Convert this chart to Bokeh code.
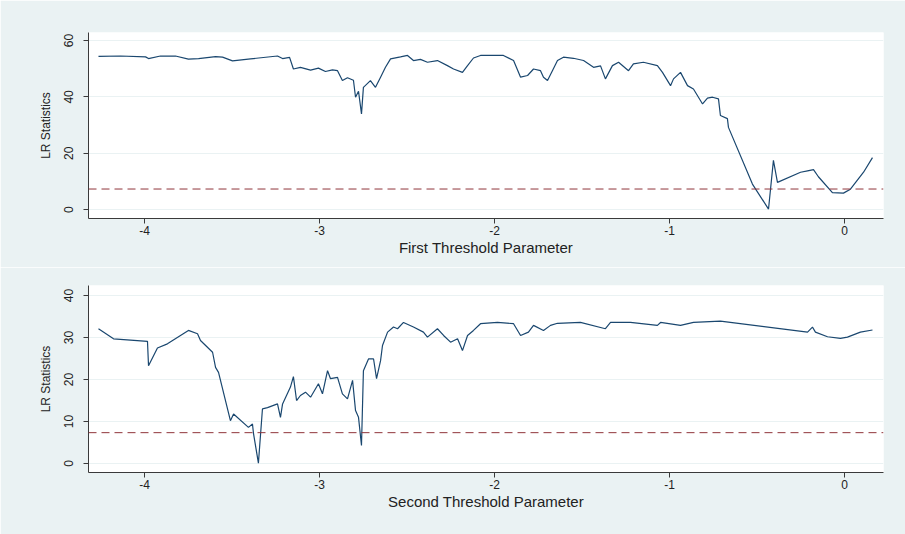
from bokeh.plotting import figure
from bokeh.models import Span, FixedTicker
from bokeh.layouts import column
from bokeh.embed import file_html
from bokeh.resources import INLINE

# ---- data ----
x1 = [-4.263, -4.137, -3.994, -3.977, -3.909, -3.823, -3.749, -3.691, -3.594, -3.554,
      -3.497, -3.394, -3.240, -3.211, -3.171, -3.149, -3.109, -3.051, -3.006, -2.966,
      -2.926, -2.897, -2.869, -2.840, -2.806, -2.794, -2.777, -2.760, -2.749, -2.709,
      -2.680, -2.651, -2.623, -2.594, -2.537, -2.497, -2.463, -2.423, -2.383, -2.326,
      -2.269, -2.234, -2.183, -2.154, -2.120, -2.080, -1.949, -1.891, -1.851, -1.811,
      -1.777, -1.737, -1.720, -1.697, -1.669, -1.640, -1.606, -1.549, -1.491, -1.434,
      -1.394, -1.366, -1.326, -1.291, -1.234, -1.206, -1.149, -1.069, -1.040, -0.994,
      -0.977, -0.937, -0.897, -0.863, -0.811, -0.783, -0.754, -0.720, -0.709, -0.669,
      -0.663, -0.526, -0.434, -0.406, -0.383, -0.251, -0.211, -0.177, -0.149, -0.069,
      -0.006, 0.034, 0.109, 0.160]
lr1 = [54.4, 54.5, 54.2, 53.6, 54.5, 54.5, 53.4, 53.6, 54.3, 54.1,
       52.8, 53.5, 54.5, 53.6, 54.0, 49.9, 50.5, 49.5, 50.2, 49.0,
       49.6, 49.3, 45.8, 46.8, 45.9, 39.9, 42.0, 34.0, 43.4, 45.8,
       43.4, 47.0, 50.5, 53.5, 54.2, 54.7, 52.9, 53.3, 52.3, 52.9,
       51.1, 49.9, 48.7, 51.1, 53.8, 54.7, 54.7, 52.9, 47.0, 47.6,
       49.9, 49.3, 47.0, 45.8, 49.3, 52.9, 54.1, 53.7, 52.9, 50.5,
       51.0, 46.4, 51.1, 52.3, 49.3, 51.7, 52.3, 51.1, 48.7, 44.0,
       46.4, 48.7, 44.0, 42.8, 37.5, 39.6, 39.9, 39.3, 33.4, 32.3,
       29.2, 9.1, 0.25, 17.5, 9.7, 13.3, 13.8, 14.2, 11.7, 6.1,
       5.9, 7.3, 13.3, 18.5]

x2 = [-4.263, -4.177, -3.983, -3.977, -3.926, -3.869, -3.749, -3.697, -3.680, -3.611,
      -3.594, -3.577, -3.509, -3.491, -3.406, -3.383, -3.377, -3.349, -3.326, -3.297,
      -3.240, -3.223, -3.211, -3.166, -3.149, -3.131, -3.109, -3.080, -3.051, -3.006,
      -2.983, -2.954, -2.937, -2.897, -2.869, -2.840, -2.811, -2.794, -2.777, -2.760,
      -2.749, -2.720, -2.691, -2.674, -2.651, -2.640, -2.611, -2.577, -2.554, -2.520,
      -2.463, -2.406, -2.383, -2.326, -2.291, -2.251, -2.211, -2.183, -2.154, -2.120,
      -2.080, -1.983, -1.891, -1.851, -1.806, -1.777, -1.720, -1.680, -1.640, -1.509,
      -1.366, -1.337, -1.223, -1.069, -1.051, -0.937, -0.863, -0.709, -0.211, -0.183,
      -0.166, -0.097, -0.023, 0.017, 0.091, 0.160]
lr2 = [32.1, 29.7, 29.1, 23.3, 27.5, 28.5, 31.7, 30.9, 29.3, 26.5,
       22.9, 21.7, 10.2, 11.8, 8.6, 9.4, 7.1, 0.1, 13.0, 13.3,
       14.2, 11.0, 14.2, 18.2, 20.7, 15.0, 16.2, 17.0, 15.8, 19.0,
       16.6, 22.1, 20.2, 20.5, 16.6, 15.4, 19.8, 12.6, 11.0, 4.3,
       22.1, 24.9, 24.9, 20.2, 24.5, 28.1, 31.3, 32.5, 32.1, 33.6,
       32.5, 31.3, 30.1, 32.1, 30.5, 28.9, 29.7, 26.9, 30.5, 31.7,
       33.3, 33.6, 33.3, 30.5, 31.3, 32.9, 31.7, 32.9, 33.4, 33.6,
       32.1, 33.6, 33.6, 32.9, 33.6, 32.9, 33.6, 33.9, 31.3, 32.5,
       31.3, 30.2, 29.8, 30.1, 31.3, 31.8]

crit = 7.35
x_ticks = [-4, -3, -2, -1, 0]
y1_ticks = [0, 20, 40, 60]
y2_ticks = [0, 10, 20, 30, 40]
x_title1 = "First Threshold Parameter"
x_title2 = "Second Threshold Parameter"
y_title = "LR Statistics"

BG = "#EAF2F3"
LINE = "#1A476F"
DASH = "#90353B"
FONT = "Liberation Sans"


def make_panel(xs, ys, yticks, y_range, xtitle, height, top, bottom):
    p = figure(width=905, height=height, output_backend="svg", toolbar_location=None,
               x_range=(-4.32, 0.223), y_range=y_range,
               min_border_left=88, min_border_right=22,
               min_border_top=top, min_border_bottom=bottom)
    p.border_fill_color = BG
    p.background_fill_color = "white"
    p.outline_line_color = None
    p.xgrid.visible = False
    p.ygrid.grid_line_color = BG
    p.ygrid.grid_line_width = 1
    p.ygrid.ticker = FixedTicker(ticks=yticks)

    p.line(xs, ys, line_color=LINE, line_width=1.2)
    p.add_layout(Span(location=crit, dimension="width", line_color=DASH,
                      line_width=1, line_dash="8 5"))

    p.xaxis.ticker = FixedTicker(ticks=x_ticks)
    p.xaxis.major_label_overrides = {t: str(t) for t in x_ticks}
    p.yaxis.ticker = FixedTicker(ticks=yticks)
    p.yaxis.major_label_overrides = {t: str(t) for t in yticks}
    for ax in (p.xaxis[0], p.yaxis[0]):
        ax.minor_tick_line_color = None
        ax.major_tick_in = 0
        ax.major_tick_out = 5
        ax.axis_line_color = "#3a3a3a"
        ax.major_tick_line_color = "#3a3a3a"
        ax.major_label_text_font = FONT
        ax.major_label_text_font_size = "12px"
        ax.major_label_text_color = "#222222"
        ax.axis_label_text_font = FONT
        ax.axis_label_text_font_style = "normal"
        ax.axis_label_text_color = "#222222"
    p.xaxis.axis_label = xtitle
    p.xaxis.axis_label_text_font_size = "15px"
    p.xaxis.major_label_standoff = 2
    p.xaxis.axis_label_standoff = 1
    p.yaxis.axis_label = y_title
    p.yaxis.axis_label_text_font_size = "12px"
    p.yaxis.major_label_orientation = "vertical"
    p.yaxis.major_label_standoff = 10
    p.yaxis.axis_label_standoff = 9
    return p


p1 = make_panel(x1, lr1, y1_ticks, (-3.1, 62.84), x_title1, 267, 32, 49)
p2 = make_panel(x2, lr2, y2_ticks, (-2.14, 42.4), x_title2, 267, 18, 62)

layout = column(p1, p2, spacing=0)

open("out.html", "w").write(file_html(layout, INLINE))
